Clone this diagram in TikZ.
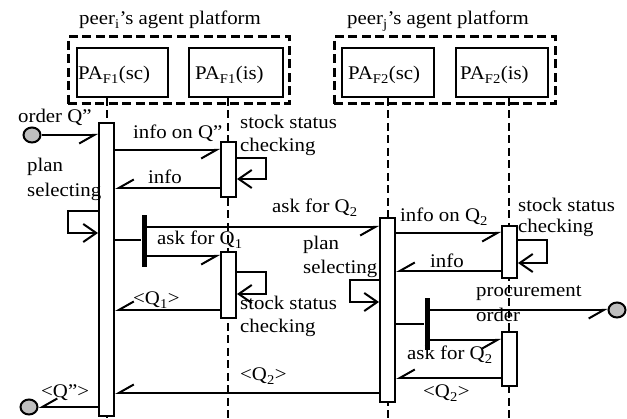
\documentclass[tikz,border=0pt]{standalone}
\usepackage{fontspec}
\setmainfont[FakeStretch=1.08]{Liberation Serif}
\usetikzlibrary{arrows.meta,shapes.geometric}
\begin{document}
\begin{tikzpicture}[x=1pt,y=-1pt,
  font=\fontsize{19.3}{22}\selectfont,
  lbl/.style={anchor=base west, inner sep=0pt},
  agent/.style={draw, line width=2pt, fill=white, minimum height=49pt, inner sep=0pt},
  platform/.style={draw, line width=3pt, dash pattern=on 9pt off 4.5pt, minimum height=67pt, inner sep=0pt},
  life/.style={line width=1.6pt, dash pattern=on 8pt off 4.5pt},
  act/.style={draw, fill=white, line width=2pt, minimum width=15pt, inner sep=0pt},
  forkbar/.style={fill=black, minimum width=5pt, minimum height=52pt, inner sep=0pt},
  endpt/.style={ellipse, draw, fill=black!25, line width=2pt, minimum width=17pt, minimum height=15pt, inner sep=0pt},
  msg/.style={line width=2pt, -{Straight Barb[right,length=15pt,width=17pt]}},
  selfmsg/.style={line width=2pt, -{Straight Barb[length=13pt,width=18pt]}}]
\useasboundingbox (0,0) rectangle (627,419);

% platforms and their agents
\node[platform, minimum width=221pt] (platI) at (178.5,70.5) {};
\node[platform, minimum width=221pt] (platJ) at (444.5,70.5) {};
\node[lbl] (titleI) at (79,25) {peer\textsubscript{i}’s agent platform};
\node[lbl] (titleJ) at (347,25) {peer\textsubscript{j}’s agent platform};

% lifelines
\coordinate (L1) at (107,419);
\coordinate (L2) at (228,419);
\coordinate (L3) at (388,419);
\coordinate (L4) at (509,419);
\node[agent, minimum width=91pt] (sc1box) at (122,72.5) {};
\node[agent, minimum width=94pt] (is1box) at (236,72.5) {};
\node[agent, minimum width=92pt] (sc2box) at (388,72.5) {};
\node[agent, minimum width=92pt] (is2box) at (502,72.5) {};
\draw[life] (sc1box.south -| L1) -- (L1);
\draw[life] (is1box.south -| L2) -- (L2);
\draw[life] (sc2box.south -| L3) -- (L3);
\draw[life] (is2box.south -| L4) -- (L4);
\node[lbl] (sc1txt) at (78,80) {PA\textsubscript{F1}(sc)};
\node[lbl] (is1txt) at (195,80) {PA\textsubscript{F1}(is)};
\node[lbl] (sc2txt) at (348,80) {PA\textsubscript{F2}(sc)};
\node[lbl] (is2txt) at (460,80) {PA\textsubscript{F2}(is)};

% activation bars
\node[act, minimum height=293pt] (A1) at (106.5,269.5) {};
\node[act, minimum height=55pt]  (B1) at (228.5,169.5) {};
\node[act, minimum height=66pt]  (B2) at (228.5,285) {};
\node[act, minimum height=184pt] (C1) at (387.5,310) {};
\node[act, minimum height=52pt]  (D1) at (509.5,252) {};
\node[act, minimum height=54pt]  (D2) at (509.5,359) {};

% fork bars
\node[forkbar] (F1) at (144,241) {};
\node[forkbar] (F2) at (427,324) {};

% initial and final states
\node[endpt] (O1) at (32,135) {};
\node[endpt] (O2) at (29,407) {};
\node[endpt] (O3) at (617,310) {};

% messages of peer i
\draw[msg] (O1.east) -- (A1.west |- O1);
\draw[msg] (A1.east |- 0,150) -- (B1.west |- 0,150);
\draw[selfmsg] (B1.east |- 0,158) -| (266,179) -- (B1.east |- 0,179);
\draw[msg] (B1.west |- 0,188) -- (A1.east |- 0,188);
\draw[selfmsg] (A1.west |- 0,211) -| (68,233) -- (A1.west |- 0,233);
\draw[line width=2pt] (A1.east |- 0,240) -- (F1.west |- 0,240);
\draw[msg] (F1.east |- 0,227) -- (C1.west |- 0,227);
\draw[msg] (F1.east |- 0,256) -- (B2.west |- 0,256);
\draw[selfmsg] (B2.east |- 0,272) -| (266,294) -- (B2.east |- 0,294);
\draw[msg] (B2.west |- 0,310) -- (A1.east |- 0,310);
\draw[msg] (C1.west |- 0,393) -- (A1.east |- 0,393);
\draw[msg] (A1.west |- O2) -- (O2.east);

% messages of peer j
\draw[msg] (C1.east |- 0,233) -- (D1.west |- 0,233);
\draw[selfmsg] (D1.east |- 0,240) -| (547,263) -- (D1.east |- 0,263);
\draw[msg] (D1.west |- 0,271) -- (C1.east |- 0,271);
\draw[selfmsg] (C1.west |- 0,280) -| (350,302) -- (C1.west |- 0,302);
\draw[line width=2pt] (C1.east |- 0,324) -- (F2.west |- 0,324);
\draw[msg] (F2.east |- O3) -- (O3.west);
\draw[msg] (F2.east |- 0,340) -- (D2.west |- 0,340);
\draw[msg] (D2.west |- 0,378) -- (C1.east |- 0,378);

% labels
\node[lbl] (tOrder) at (18,123) {order Q”};
\node[lbl] (tInfoQ) at (133,139) {info on Q”};
\node[lbl] (tStock1) at (240,129) {stock status};
\node[lbl] (tCheck1) at (240,152) {checking};
\node[lbl] (tInfo1) at (148,184) {info};
\node[lbl] (tPlan1) at (27,172) {plan};
\node[lbl] (tSel1) at (27,197) {selecting};
\node[lbl] (tAskQ2a) at (272,213) {ask for Q\textsubscript{2}};
\node[lbl] (tAskQ1) at (157,245) {ask for Q\textsubscript{1}};
\node[lbl] (tQ1) at (133,305) {<Q\textsubscript{1}>};
\node[lbl] (tStock2) at (240,310) {stock status};
\node[lbl] (tCheck2) at (240,333) {checking};
\node[lbl] (tQ2a) at (240,381) {<Q\textsubscript{2}>};
\node[lbl] (tQq) at (41,398) {<Q”>};
\node[lbl] (tInfoQ2) at (400,222) {info on Q\textsubscript{2}};
\node[lbl] (tStock3) at (518,212) {stock status};
\node[lbl] (tCheck3) at (518,233) {checking};
\node[lbl] (tInfo2) at (430,268) {info};
\node[lbl] (tPlan2) at (303,250) {plan};
\node[lbl] (tSel2) at (303,274) {selecting};
\node[lbl] (tProc) at (476,297) {procurement};
\node[lbl] (tOrd) at (476,322) {order};
\node[lbl] (tAskQ2b) at (407,360) {ask for Q\textsubscript{2}};
\node[lbl] (tQ2b) at (423,398) {<Q\textsubscript{2}>};
\end{tikzpicture}
\end{document}
